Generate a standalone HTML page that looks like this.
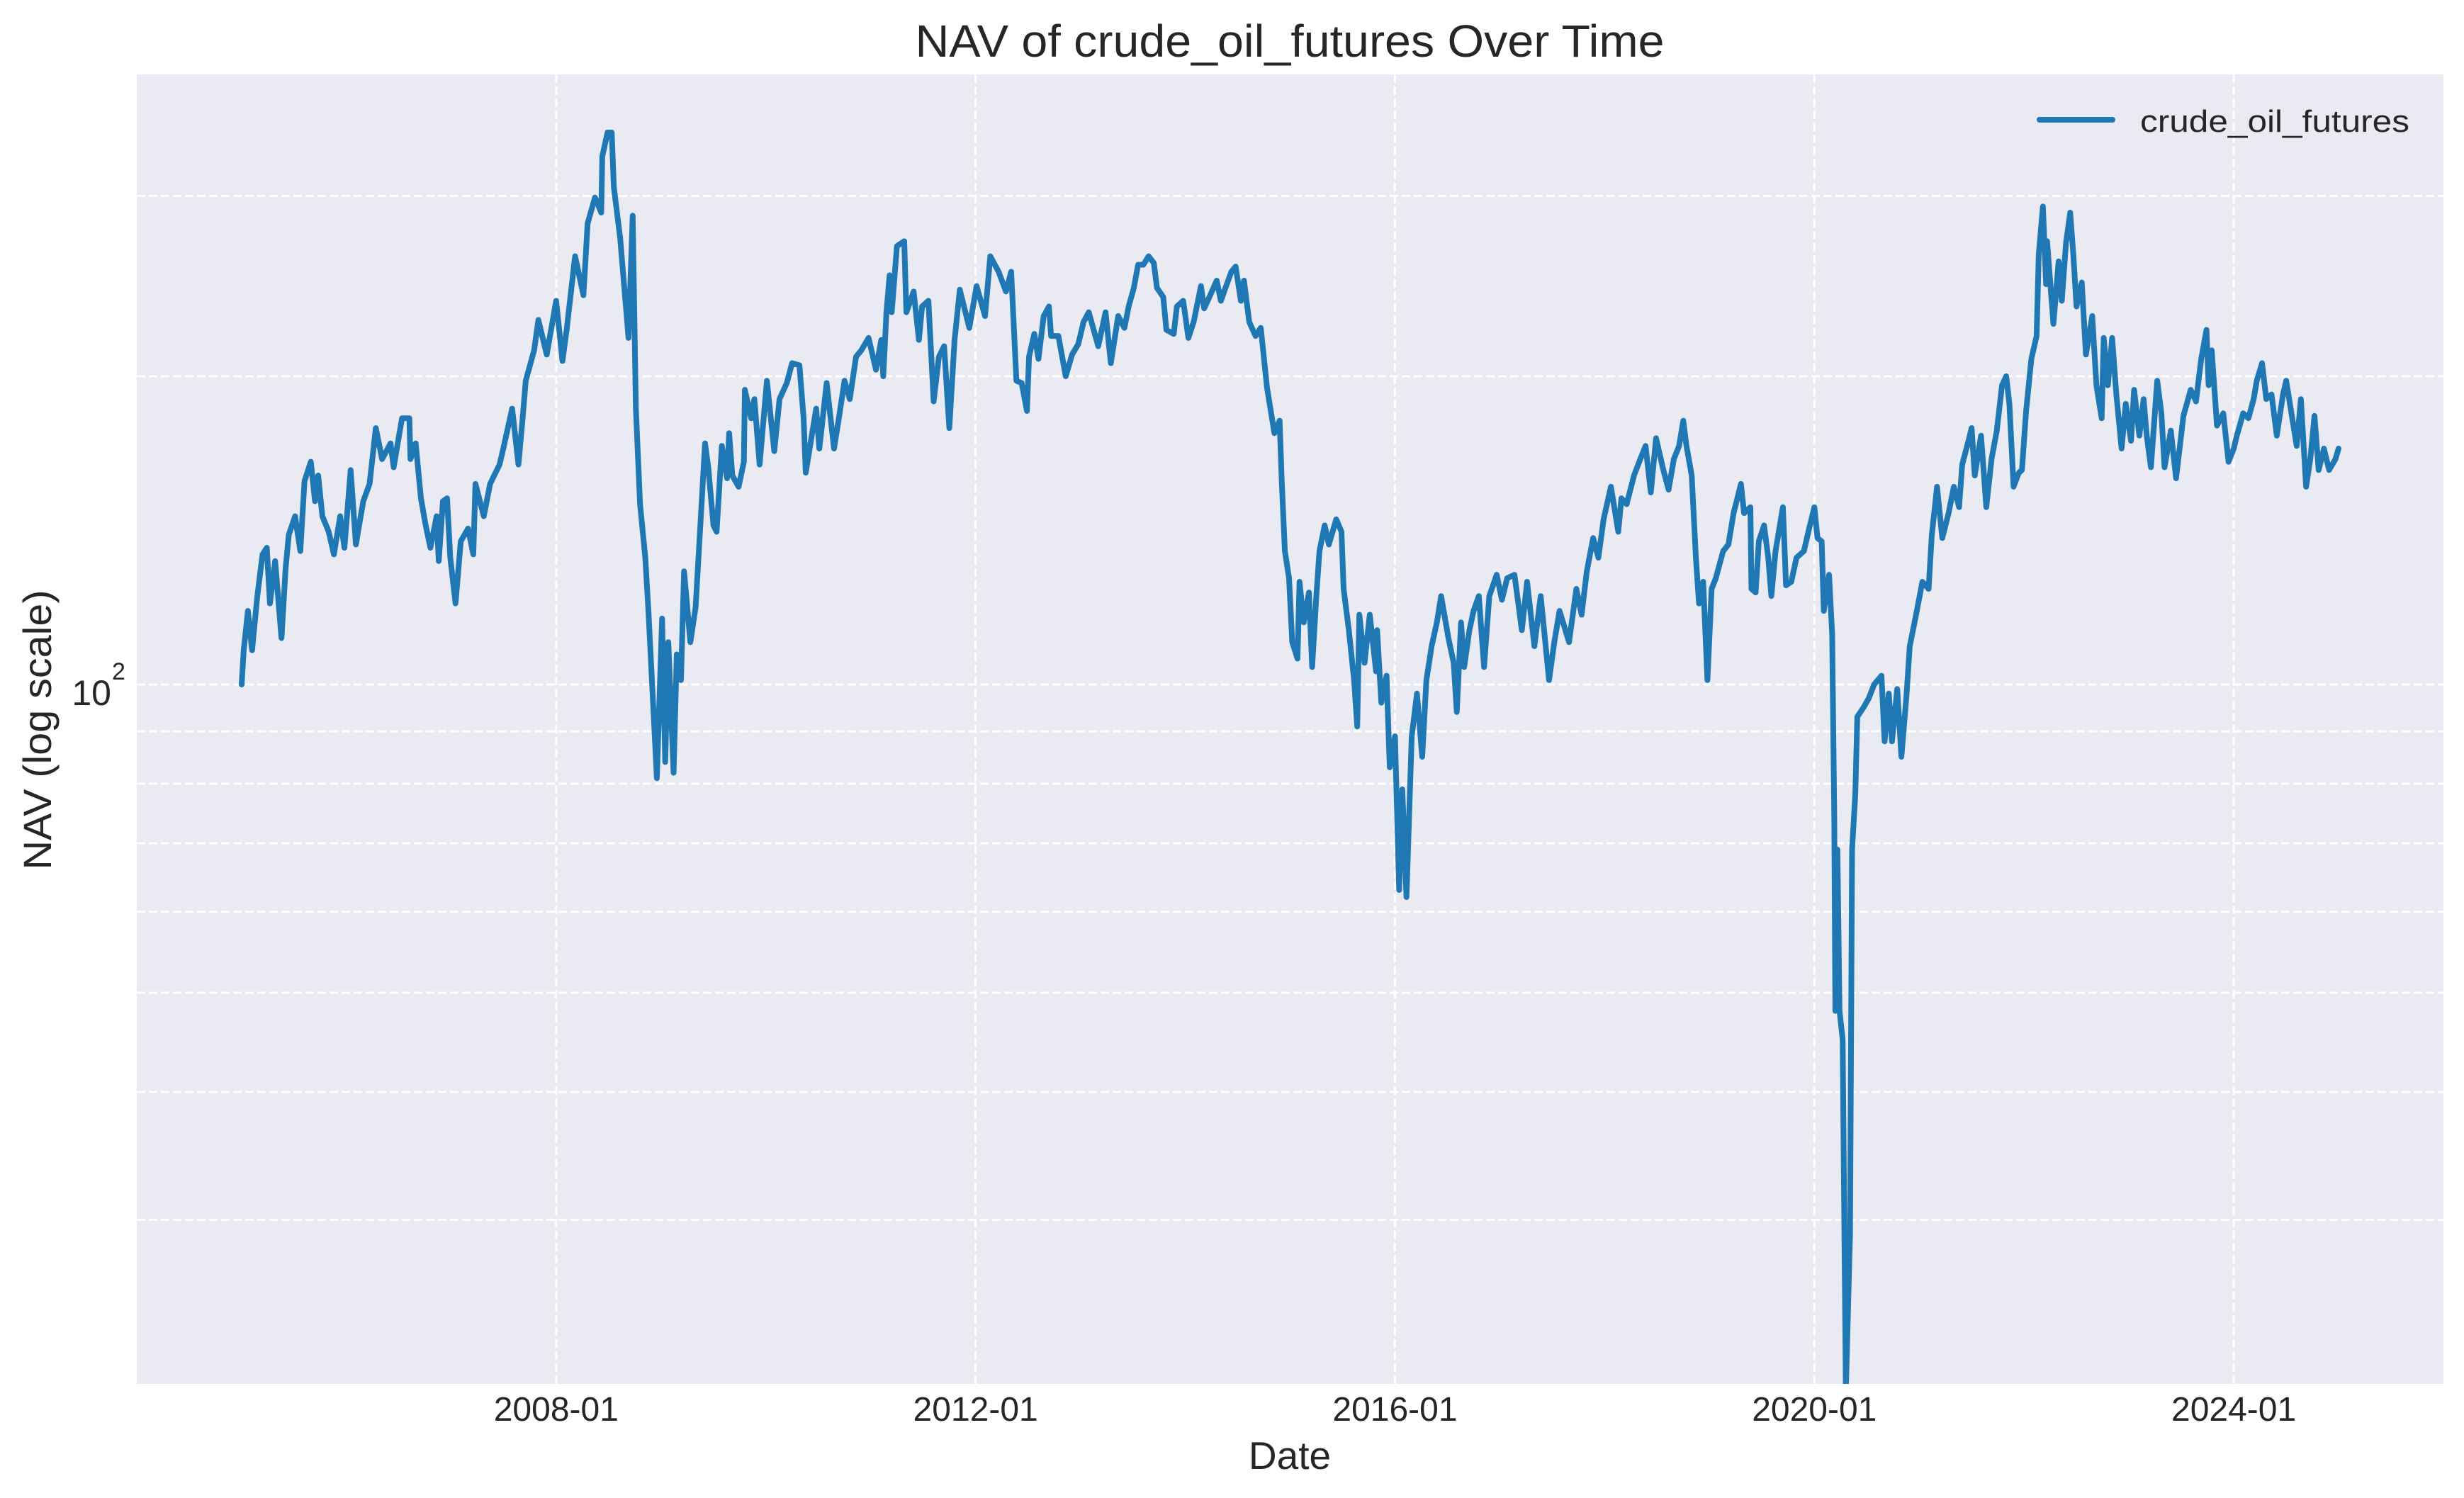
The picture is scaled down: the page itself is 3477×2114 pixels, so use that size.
<!DOCTYPE html>
<html><head><meta charset="utf-8"><style>
html,body{margin:0;padding:0;background:#fff;width:3477px;height:2114px;overflow:hidden;}
svg{display:block;font-family:"Liberation Sans",Arial,sans-serif;}
</style></head><body>
<svg id="chart" width="3477" height="2114" viewBox="0 0 3477 2114" xmlns="http://www.w3.org/2000/svg">
<defs><clipPath id="plotClip"><rect x="193" y="105" width="3255" height="1848"/></clipPath></defs>
<rect x="193" y="105" width="3255" height="1848" fill="#eaeaf2"/>
<g id="grid"></g>
<g id="series" clip-path="url(#plotClip)"></g>
<g id="ticks" fill="#262626"></g>
<text x="1820" y="80" font-size="64" fill="#262626" text-anchor="middle" textLength="1057" lengthAdjust="spacingAndGlyphs">NAV of crude_oil_futures Over Time</text>
<text x="1820" y="2073" font-size="55" fill="#262626" text-anchor="middle">Date</text>
<text transform="translate(72,1030) rotate(-90)" font-size="56" fill="#262626" text-anchor="middle" textLength="395" lengthAdjust="spacingAndGlyphs">NAV (log scale)</text>
<g>
<line x1="2878" y1="169" x2="2981" y2="169" stroke="#1f77b4" stroke-width="8" stroke-linecap="round"/>
<text x="3020" y="186" font-size="44" fill="#262626" textLength="380" lengthAdjust="spacingAndGlyphs">crude_oil_futures</text>
</g>
</svg>
<script>
const dates = [2005.0,2005.02,2005.06,2005.1,2005.15,2005.2,2005.24,2005.27,2005.32,2005.38,2005.42,2005.45,2005.51,2005.56,2005.6,2005.66,2005.7,2005.73,2005.77,2005.83,2005.88,2005.94,2005.98,2006.04,2006.09,2006.16,2006.22,2006.28,2006.34,2006.42,2006.45,2006.53,2006.6,2006.61,2006.66,2006.71,2006.75,2006.8,2006.86,2006.88,2006.92,2006.96,2006.99,2007.04,2007.09,2007.16,2007.21,2007.23,2007.31,2007.37,2007.46,2007.49,2007.58,2007.64,2007.68,2007.71,2007.79,2007.83,2007.91,2008.0,2008.06,2008.1,2008.18,2008.26,2008.3,2008.37,2008.43,2008.44,2008.49,2008.53,2008.55,2008.61,2008.69,2008.73,2008.76,2008.8,2008.85,2008.88,2008.92,2008.96,2009.01,2009.04,2009.07,2009.12,2009.15,2009.19,2009.22,2009.28,2009.33,2009.37,2009.42,2009.45,2009.5,2009.53,2009.58,2009.63,2009.65,2009.68,2009.74,2009.79,2009.8,2009.86,2009.89,2009.94,2010.01,2010.08,2010.13,2010.2,2010.25,2010.32,2010.36,2010.38,2010.48,2010.51,2010.58,2010.65,2010.7,2010.75,2010.8,2010.86,2010.91,2010.98,2011.05,2011.1,2011.12,2011.15,2011.18,2011.2,2011.25,2011.32,2011.34,2011.41,2011.46,2011.49,2011.55,2011.6,2011.65,2011.7,2011.75,2011.8,2011.85,2011.94,2012.01,2012.09,2012.14,2012.22,2012.29,2012.34,2012.39,2012.44,2012.49,2012.51,2012.56,2012.6,2012.65,2012.7,2012.72,2012.79,2012.86,2012.92,2012.98,2013.03,2013.08,2013.17,2013.24,2013.29,2013.36,2013.42,2013.46,2013.51,2013.55,2013.6,2013.65,2013.7,2013.73,2013.79,2013.82,2013.89,2013.92,2013.98,2014.03,2014.08,2014.15,2014.18,2014.23,2014.3,2014.34,2014.39,2014.44,2014.48,2014.53,2014.56,2014.61,2014.67,2014.72,2014.78,2014.85,2014.9,2014.92,2014.95,2014.99,2015.02,2015.07,2015.09,2015.13,2015.18,2015.21,2015.25,2015.28,2015.33,2015.37,2015.44,2015.49,2015.51,2015.56,2015.61,2015.64,2015.66,2015.71,2015.76,2015.82,2015.83,2015.87,2015.92,2015.95,2016.0,2016.04,2016.07,2016.11,2016.16,2016.21,2016.26,2016.3,2016.35,2016.4,2016.44,2016.51,2016.56,2016.59,2016.63,2016.66,2016.71,2016.75,2016.8,2016.85,2016.9,2016.97,2017.02,2017.07,2017.14,2017.21,2017.26,2017.33,2017.39,2017.47,2017.52,2017.57,2017.66,2017.73,2017.78,2017.83,2017.89,2017.94,2017.99,2018.06,2018.13,2018.16,2018.21,2018.28,2018.33,2018.39,2018.44,2018.49,2018.56,2018.61,2018.66,2018.71,2018.75,2018.78,2018.83,2018.87,2018.9,2018.94,2018.98,2019.02,2019.06,2019.13,2019.18,2019.23,2019.3,2019.33,2019.39,2019.4,2019.44,2019.47,2019.52,2019.56,2019.59,2019.63,2019.7,2019.73,2019.78,2019.83,2019.9,2019.95,2020.0,2020.03,2020.07,2020.09,2020.14,2020.17,2020.19,2020.2,2020.22,2020.24,2020.27,2020.3,2020.34,2020.36,2020.39,2020.41,2020.47,2020.52,2020.57,2020.64,2020.67,2020.71,2020.74,2020.79,2020.83,2020.88,2020.91,2020.97,2021.03,2021.09,2021.12,2021.17,2021.22,2021.28,2021.33,2021.38,2021.41,2021.47,2021.5,2021.53,2021.59,2021.64,2021.69,2021.74,2021.79,2021.83,2021.86,2021.9,2021.95,2021.98,2022.02,2022.07,2022.12,2022.14,2022.18,2022.21,2022.22,2022.28,2022.33,2022.36,2022.4,2022.44,2022.47,2022.5,2022.55,2022.59,2022.65,2022.69,2022.74,2022.76,2022.8,2022.84,2022.88,2022.93,2022.97,2023.02,2023.05,2023.1,2023.14,2023.17,2023.21,2023.27,2023.31,2023.34,2023.4,2023.45,2023.52,2023.59,2023.64,2023.69,2023.74,2023.76,2023.79,2023.84,2023.9,2023.95,2024.0,2024.03,2024.09,2024.14,2024.19,2024.22,2024.27,2024.31,2024.36,2024.41,2024.47,2024.5,2024.55,2024.6,2024.64,2024.69,2024.73,2024.77,2024.81,2024.86,2024.91,2024.97,2025.0];
const navValues = [100,108,118,108,122,134,136,120,132,111,130,140,146,135,158,165,151,160,146,141,134,146,136,162,137,151,157,178,166,172,163,182,182,166,172,152,144,136,146,132,151,152,133,120,138,142,134,157,146,157,164,169,186,164,182,198,212,227,210,237,207,222,262,240,282,299,289,328,346,346,306,273,218,287,186,150,133,118,98,81,116,84,110,82,107,101,129,110,119,140,172,163,143,141,171,159,176,160,156,165,194,182,190,164,198,169,190,197,206,205,182,161,186,170,197,170,183,198,190,209,212,218,203,217,200,231,251,231,268,271,231,242,217,234,237,189,209,214,178,217,243,223,245,229,262,253,242,253,198,197,185,209,220,208,229,234,219,219,200,210,215,226,231,214,231,206,229,223,234,244,257,257,262,258,244,239,222,220,234,237,218,226,245,233,239,248,237,245,253,256,237,248,226,219,223,195,176,181,158,135,127,110,106,126,115,123,104,122,135,143,137,145,141,124,113,101,91,117,105,117,103,113,96,102,83,89,63,79,62,89,98,85,101,109,115,122,111,105,94,115,104,113,118,122,104,122,128,121,127,128,113,126,109,122,101,110,118,110,124,117,129,139,133,145,156,141,152,150,160,165,171,154,174,162,155,166,171,181,171,160,133,120,126,101,124,127,135,137,147,157,147,149,124,123,138,143,133,122,135,149,125,126,133,135,142,149,139,138,118,128,112,74,48,69,48,45,12,29,69,78,93,95,97,100,102,88,98,88,99,85,98,109,117,126,124,140,156,139,147,156,149,164,173,178,160,175,149,166,177,196,200,188,156,161,162,185,208,219,263,293,246,271,225,259,237,270,289,263,234,247,210,229,196,182,218,196,218,192,170,188,173,194,175,190,175,163,198,184,163,177,159,183,194,189,208,222,196,212,179,184,165,170,175,184,182,190,198,206,190,192,175,192,198,184,171,190,156,166,183,162,170,162,166,170];
const xTickYears = [2008,2012,2016,2020,2024];
const xTickLabels = ["2008-01","2012-01","2016-01","2020-01","2024-01"];
const yMinorValues = [30,40,50,60,70,80,90,200,300];
const yMajorValues = [100];

const PL=193, PR=3448, PT=105, PB=1953;
const X0=2004.0, X1=2026.0;
const LOGMIN=Math.log10(100)-(PB-966)/1445, LOGMAX=Math.log10(100)+(966-PT)/1445;
function xScale(v){return PL+(v-X0)/(X1-X0)*(PR-PL);}
function yScale(v){return PB-(Math.log10(v)-LOGMIN)/(LOGMAX-LOGMIN)*(PB-PT);}
function yPix(v){return Math.min(PB+10, Math.max(PT-10, yScale(v)));}
const NS="http://www.w3.org/2000/svg";
const grid=document.getElementById('grid');
const ticks=document.getElementById('ticks');
const series=document.getElementById('series');

yMinorValues.concat(yMajorValues).forEach(v=>{
  const l=document.createElementNS(NS,'line');
  
  
  const y=yScale(v);
  l.setAttribute('x1',PL);l.setAttribute('x2',PR);l.setAttribute('y1',y);l.setAttribute('y2',y);
  l.setAttribute('stroke','#ffffff');l.setAttribute('stroke-width','3');l.setAttribute('stroke-dasharray','12 5');
  grid.appendChild(l);
});
xTickYears.forEach((yr,i)=>{
  const x=xScale(yr);
  const l=document.createElementNS(NS,'line');
  
  
  l.setAttribute('x1',x);l.setAttribute('x2',x);l.setAttribute('y1',PT);l.setAttribute('y2',PB);
  l.setAttribute('stroke','#ffffff');l.setAttribute('stroke-width','3');l.setAttribute('stroke-dasharray','12 5');
  grid.appendChild(l);
  const t=document.createElementNS(NS,'text');
  
  
  t.setAttribute('x',x);t.setAttribute('y',2005);t.setAttribute('font-size','48');t.setAttribute('text-anchor','middle');
  t.textContent=xTickLabels[i];
  ticks.appendChild(t);
});
yMajorValues.forEach(v=>{
  const y=yScale(v);
  const t=document.createElementNS(NS,'text');
  
  
  t.setAttribute('x',157);t.setAttribute('y',y+29);t.setAttribute('font-size','50');t.setAttribute('text-anchor','end');
  t.textContent='10';
  ticks.appendChild(t);
  const s=document.createElementNS(NS,'text');
  
  
  s.setAttribute('x',158);s.setAttribute('y',y-7);s.setAttribute('font-size','34');
  s.textContent=String(Math.round(Math.log10(v)));
  ticks.appendChild(s);
});
let d='';
dates.forEach((dt,i)=>{d+=(i?'L':'M')+xScale(dt).toFixed(1)+','+yPix(navValues[i]).toFixed(1);});
const p=document.createElementNS(NS,'path');


p.setAttribute('d',d);p.setAttribute('fill','none');p.setAttribute('stroke','#1f77b4');
p.setAttribute('stroke-width','8');p.setAttribute('stroke-linejoin','round');p.setAttribute('stroke-linecap','round');
series.appendChild(p);
</script>
</body></html>
